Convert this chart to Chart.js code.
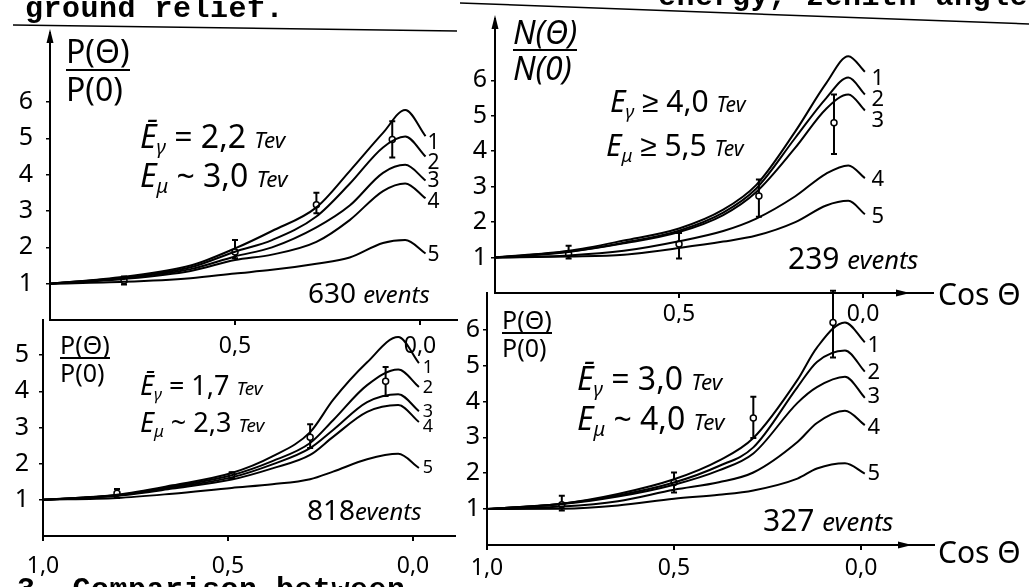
<!DOCTYPE html>
<html>
<head>
<meta charset="utf-8">
<script src="https://cdn.jsdelivr.net/npm/chart.js@4.4.1/dist/chart.umd.min.js"></script>
<style>
  body { margin: 0; background: #fff; }
  #page { position: relative; width: 1029px; height: 587px; overflow: hidden; background: #fff; }
  canvas { position: absolute; left: 0; top: 0; }
  .a { position: absolute; white-space: nowrap; font-family: 'Noto Sans', sans-serif; line-height: 1; color: #000; }
  .i { font-style: italic; }
  .s { font-size: 0.62em; position: relative; top: 0.32em; font-style: italic; }
  .u { font-size: 0.7em; font-style: italic; }
  .ev { font-size: 0.85em; font-style: italic; }
  .mono { font-family: 'Liberation Mono', monospace; font-weight: bold; font-size: 30px; letter-spacing: 0.5px; }
  .frac div + div { border-top: 2px solid #000; }
</style>
</head>
<body>
<div id="page">
  <canvas id="tl" width="1029" height="587"></canvas>
  <canvas id="tr" width="1029" height="587"></canvas>
  <canvas id="bl" width="1029" height="587"></canvas>
  <canvas id="br" width="1029" height="587"></canvas>

  <svg class="a" style="left:0;top:0" width="1029" height="587">
    <line x1="13" y1="25" x2="457" y2="31" stroke="#000" stroke-width="1.5"/>
    <line x1="460" y1="3" x2="1029" y2="24" stroke="#000" stroke-width="1.5"/>
  </svg>

  <div class="a mono" style="left:25px;top:-6px">ground relief.</div>
  <div class="a mono" style="left:658px;top:-18px">energy, zenith angle</div>
  <div class="a mono" style="left:17px;top:575px">3. Comparison between</div>

  <!-- top left -->
  <div class="a frac" style="left:66px;top:33px;font-size:32px;line-height:36px"><div>P(Θ)</div><div>P(0)</div></div>
  <div class="a" style="left:140px;top:120px;font-size:32px"><span class="i">Ē</span><span class="s">γ</span> = 2,2 <span class="u">Tev</span></div>
  <div class="a" style="left:140px;top:159px;font-size:32px"><span class="i">E</span><span class="s">μ</span> ~ 3,0 <span class="u">Tev</span></div>
  <div class="a" style="left:308px;top:278px;font-size:28px">630 <span class="ev">events</span></div>

  <!-- top right -->
  <div class="a frac i" style="left:513px;top:15px;font-size:32px;line-height:34px"><div>N(Θ)</div><div>N(0)</div></div>
  <div class="a" style="left:610px;top:86px;font-size:30px"><span class="i">E</span><span class="s">γ</span> ≥ 4,0 <span class="u">Tev</span></div>
  <div class="a" style="left:606px;top:130px;font-size:30px"><span class="i">E</span><span class="s">μ</span> ≥ 5,5 <span class="u">Tev</span></div>
  <div class="a" style="left:788px;top:243px;font-size:30px">239 <span class="ev">events</span></div>
  <div class="a" style="left:938px;top:279px;font-size:30px">Cos Θ</div>

  <!-- bottom left -->
  <div class="a frac" style="left:60px;top:331px;font-size:25px;line-height:26px"><div>P(Θ)</div><div>P(0)</div></div>
  <div class="a" style="left:140px;top:371px;font-size:27px"><span class="i">Ē</span><span class="s">γ</span> = 1,7 <span class="u">Tev</span></div>
  <div class="a" style="left:140px;top:408px;font-size:27px"><span class="i">E</span><span class="s">μ</span> ~ 2,3 <span class="u">Tev</span></div>
  <div class="a" style="left:307px;top:495px;font-size:28px">818<span class="ev">events</span></div>

  <!-- bottom right -->
  <div class="a frac" style="left:502px;top:306px;font-size:25px;line-height:26px"><div>P(Θ)</div><div>P(0)</div></div>
  <div class="a" style="left:577px;top:362px;font-size:32px"><span class="i">Ē</span><span class="s">γ</span> = 3,0 <span class="u">Tev</span></div>
  <div class="a" style="left:577px;top:402px;font-size:32px"><span class="i">E</span><span class="s">μ</span> ~ 4,0 <span class="u">Tev</span></div>
  <div class="a" style="left:763px;top:505px;font-size:30px">327 <span class="ev">events</span></div>
  <div class="a" style="left:938px;top:537px;font-size:30px">Cos Θ</div>
</div>

<script>
Chart.defaults.font.family = "'Noto Sans', sans-serif";
Chart.defaults.color = '#000';

const yTicks = [1, 2, 3, 4, 5, 6];
const blYTicks = [1, 2, 3, 4, 5];
const xTicksFull = [1.0, 0.5, 0.0];
const xTicksTop = [0.5, 0.0];
const curveTags = ['1', '2', '3', '4', '5'];

// top left, 630 events
const tlCos = [1.0, 0.8, 0.62, 0.5, 0.4, 0.28, 0.19, 0.1, 0.04, -0.015];
const tlCurves = [
  [1, 1.19, 1.5, 1.97, 2.45, 3.1, 4.1, 5.15, 5.78, 5.06],
  [1, 1.17, 1.45, 1.88, 2.2, 2.85, 3.75, 4.75, 5.05, 4.5],
  [1, 1.15, 1.4, 1.75, 2.0, 2.55, 3.15, 4.05, 4.27, 3.84],
  [1, 1.13, 1.35, 1.65, 1.8, 2.15, 2.75, 3.55, 3.76, 3.35],
  [1, 1.05, 1.15, 1.28, 1.38, 1.55, 1.72, 2.12, 2.2, 1.83],
];
const tlObsCos = [0.8, 0.5, 0.28, 0.075];
const tlObs = [1.08, 1.87, 3.17, 4.97];
const tlLo = [0.98, 1.7, 2.94, 4.47];
const tlHi = [1.2, 2.2, 3.5, 5.47];

// top right, 239 events
const trCos = [1.0, 0.8, 0.65, 0.5, 0.38, 0.29, 0.184, 0.1, 0.04, -0.005];
const trCurves = [
  [1, 1.19, 1.48, 1.82, 2.35, 3.05, 4.56, 5.92, 6.68, 6.24],
  [1, 1.17, 1.42, 1.76, 2.27, 2.95, 4.38, 5.5, 6.08, 5.6],
  [1, 1.16, 1.4, 1.72, 2.2, 2.85, 4.1, 5.2, 5.6, 5.15],
  [1, 1.06, 1.19, 1.46, 1.75, 2.1, 2.73, 3.37, 3.6, 3.24],
  [1, 1.03, 1.08, 1.27, 1.45, 1.62, 2.0, 2.47, 2.6, 2.22],
];
const trObsCos = [0.8, 0.5, 0.283, 0.079];
const trObs = [1.1, 1.38, 2.74, 4.8];
const trLo = [0.97, 0.97, 2.15, 3.92];
const trHi = [1.33, 1.69, 3.2, 5.6];

// bottom left, 818 events
const blCos = [1.0, 0.8, 0.65, 0.49, 0.38, 0.278, 0.216, 0.124, 0.04, -0.016];
const blCurves = [
  [1, 1.14, 1.4, 1.74, 2.2, 2.87, 3.76, 4.8, 5.5, 4.78],
  [1, 1.13, 1.37, 1.68, 2.07, 2.57, 3.2, 4.17, 4.6, 4.12],
  [1, 1.12, 1.34, 1.62, 1.98, 2.43, 2.93, 3.7, 3.92, 3.45],
  [1, 1.11, 1.31, 1.56, 1.87, 2.24, 2.74, 3.43, 3.62, 3.15],
  [1, 1.05, 1.17, 1.33, 1.43, 1.57, 1.78, 2.12, 2.27, 1.88],
];
const blObsCos = [0.8, 0.49, 0.278, 0.074];
const blObs = [1.18, 1.68, 2.73, 4.28];
const blLo = [1.05, 1.6, 2.43, 3.87];
const blHi = [1.3, 1.76, 3.09, 4.67];

// bottom right, 327 events
const brCos = [1.0, 0.8, 0.65, 0.5, 0.38, 0.288, 0.17, 0.118, 0.043, -0.01];
const brCurves = [
  [1, 1.15, 1.42, 1.83, 2.35, 2.98, 4.6, 5.5, 6.2, 5.65],
  [1, 1.15, 1.38, 1.74, 2.2, 2.72, 4.4, 5.1, 5.42, 4.83],
  [1, 1.14, 1.35, 1.68, 2.08, 2.55, 3.96, 4.4, 4.69, 4.1],
  [1, 1.07, 1.22, 1.54, 1.75, 2.02, 2.87, 3.4, 3.74, 3.34],
  [1, 1.01, 1.1, 1.29, 1.4, 1.52, 1.85, 2.13, 2.28, 1.99],
];
const brObsCos = [0.8, 0.5, 0.288, 0.075];
const brObs = [1.12, 1.74, 3.54, 6.2];
const brLo = [0.96, 1.46, 2.98, 5.22];
const brHi = [1.37, 2.02, 4.13, 7.08];

// vertical error bars with small caps, drawn under the points
const errorBars = {
  id: 'errorBars',
  beforeDatasetsDraw(chart) {
    const { ctx, scales: { x, y } } = chart;
    ctx.save();
    ctx.strokeStyle = '#000';
    ctx.lineWidth = 2;
    chart.data.datasets.forEach((ds) => {
      if (!ds.errLo) return;
      ds.data.forEach((pt, i) => {
        const px = x.getPixelForValue(pt.x);
        const top = y.getPixelForValue(ds.errHi[i]);
        const bot = y.getPixelForValue(ds.errLo[i]);
        ctx.beginPath();
        ctx.moveTo(px, top);
        ctx.lineTo(px, bot);
        ctx.moveTo(px - 3, top);
        ctx.lineTo(px + 3, top);
        ctx.moveTo(px - 3, bot);
        ctx.lineTo(px + 3, bot);
        ctx.stroke();
      });
    });
    ctx.restore();
  },
};

// curve numbers written at the right end of each curve
const curveLabels = {
  id: 'curveLabels',
  afterDatasetsDraw(chart, args, opts) {
    const { ctx } = chart;
    ctx.save();
    ctx.font = opts.size + "px 'Noto Sans'";
    ctx.textAlign = 'center';
    ctx.textBaseline = 'middle';
    ctx.fillStyle = '#000';
    chart.data.datasets.forEach((ds, i) => {
      if (!ds.tag) return;
      const pts = chart.getDatasetMeta(i).data;
      const end = pts[pts.length - 1];
      ctx.fillText(ds.tag, end.x + opts.dx, end.y + ds.tagDy);
    });
    ctx.restore();
  },
};

const axisArrows = {
  id: 'axisArrows',
  afterDraw(chart, args, opts) {
    const { ctx, chartArea: a } = chart;
    ctx.save();
    ctx.fillStyle = '#000';
    if (opts.up) {
      ctx.beginPath();
      ctx.moveTo(a.left, a.top - 4);
      ctx.lineTo(a.left - 3.5, a.top + 10);
      ctx.lineTo(a.left + 3.5, a.top + 10);
      ctx.fill();
    }
    if (opts.back) {
      const tip = a.right - opts.back;
      ctx.beginPath();
      ctx.moveTo(tip, a.bottom);
      ctx.lineTo(tip - 14, a.bottom - 3.5);
      ctx.lineTo(tip - 14, a.bottom + 3.5);
      ctx.fill();
    }
    ctx.restore();
  },
};

function drawPanel(id, p) {
  const curves = p.curves.map((vals, i) => ({
    type: 'line',
    data: p.cos.map((c, j) => ({ x: c, y: vals[j] })),
    borderColor: '#000',
    borderWidth: 2,
    pointRadius: 0,
    cubicInterpolationMode: 'monotone',
    tag: curveTags[i],
    tagDy: p.tagDy[i],
  }));
  const obs = {
    type: 'scatter',
    data: p.obsCos.map((c, j) => ({ x: c, y: p.obs[j] })),
    errLo: p.lo,
    errHi: p.hi,
    pointRadius: 3,
    pointBackgroundColor: '#fff',
    pointBorderColor: '#000',
    pointBorderWidth: 1.5,
  };

  return new Chart(document.getElementById(id), {
    type: 'line',
    data: { datasets: [...curves, obs] },
    options: {
      responsive: false,
      animation: false,
      events: [],
      layout: { padding: p.pad },
      plugins: {
        legend: { display: false },
        tooltip: { enabled: false },
        curveLabels: { size: p.tagSize, dx: p.tagDx },
        axisArrows: p.arrows,
      },
      scales: {
        x: {
          type: 'linear',
          reverse: true,
          min: p.xMin,
          max: 1.0,
          afterFit: (s) => { s.height = p.xH; },
          afterBuildTicks: (s) => { s.ticks = p.xTicks.map((v) => ({ value: v })); },
          ticks: {
            callback: (v) => v.toFixed(1).replace('.', ','),
            font: { size: 23 },
            padding: p.xPad,
            autoSkip: false,
            maxRotation: 0,
          },
          grid: { drawOnChartArea: false, tickLength: 5, color: '#000', lineWidth: 2 },
          border: { color: '#000', width: 2 },
        },
        y: {
          min: 0,
          max: p.yMax,
          afterFit: (s) => { s.width = p.yW; },
          afterBuildTicks: (s) => { s.ticks = p.yTicks.map((v) => ({ value: v })); },
          ticks: { font: { size: p.ySize }, padding: p.yPad },
          grid: { drawOnChartArea: false, tickLength: 4, color: '#000', lineWidth: 1.5 },
          border: { color: '#000', width: 2 },
        },
      },
    },
    plugins: [errorBars, curveLabels, axisArrows],
  });
}

drawPanel('tl', {
  cos: tlCos, curves: tlCurves, obsCos: tlObsCos, obs: tlObs, lo: tlLo, hi: tlHi,
  xTicks: xTicksTop, yTicks: yTicks, xMin: -0.1, yMax: 7.9,
  pad: { left: 0, right: 572, top: 33, bottom: 227 }, yW: 50, xH: 40,
  xPad: 8, yPad: 13, ySize: 25,
  tagSize: 21, tagDx: 8, tagDy: [7, 6, 1, 4, 1],
  arrows: { up: true },
});

drawPanel('tr', {
  cos: trCos, curves: trCurves, obsCos: trObsCos, obs: trObs, lo: trLo, hi: trHi,
  xTicks: xTicksTop, yTicks: yTicks, xMin: -0.19, yMax: 7.73,
  pad: { left: 455, right: 96, top: 10, bottom: 264 }, yW: 40, xH: 30,
  xPad: 3, yPad: 4, ySize: 25,
  tagSize: 22, tagDx: 13, tagDy: [7, 5, 10, 2, 2],
  arrows: { up: true, back: 23 },
});

drawPanel('bl', {
  cos: blCos, curves: blCurves, obsCos: blObsCos, obs: blObs, lo: blLo, hi: blHi,
  xTicks: xTicksFull, yTicks: blYTicks, xMin: -0.1135, yMax: 5.97,
  pad: { left: 0, right: 574, top: 320, bottom: 6 }, yW: 43, xH: 45,
  xPad: 12, yPad: 10, ySize: 25,
  tagSize: 18, tagDx: 9, tagDy: [5, 1, 1, 5, 0],
  arrows: {},
});

drawPanel('br', {
  cos: brCos, curves: brCurves, obsCos: brObsCos, obs: brObs, lo: brLo, hi: brHi,
  xTicks: xTicksFull, yTicks: yTicks, xMin: -0.195, yMax: 7.02,
  pad: { left: 447, right: 95, top: 293, bottom: 4 }, yW: 40, xH: 38,
  xPad: 5, yPad: 3, ySize: 25,
  tagSize: 22, tagDx: 9, tagDy: [4, 1, -1, 3, 0],
  arrows: { back: 22 },
});
</script>
</body>
</html>
